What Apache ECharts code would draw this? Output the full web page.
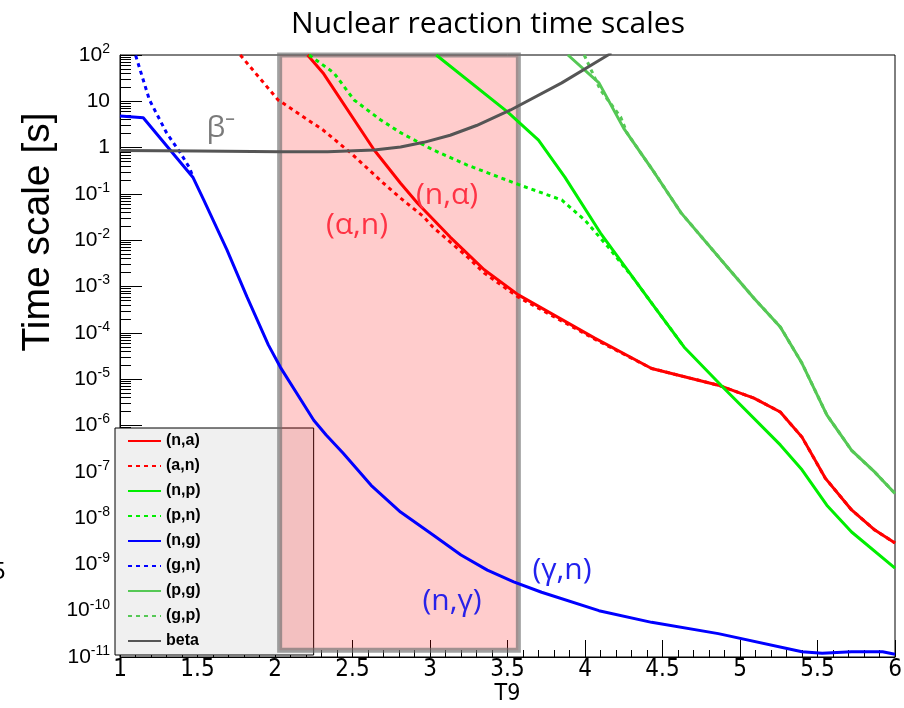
<!DOCTYPE html>
<html><head><meta charset="utf-8">
<script src="https://cdn.jsdelivr.net/npm/echarts@6/dist/echarts.min.js"></script>
<style>html,body{margin:0;padding:0;background:#fff}#c{width:904px;height:708px}</style>
</head><body><div id="c"></div>
<script>
// ---- data (T9, time scale in s) ----
const T_na = [2.21, 2.31, 2.64, 2.81, 2.92, 3.13, 3.35, 3.57, 4.06, 4.43, 4.86, 5.09, 5.26, 5.40, 5.55, 5.72, 5.87, 6.0];
const V_na = [100, 41, 0.89, 0.17, 0.063, 0.0117, 2.3e-3, 6.6e-4, 7.8e-5, 1.7e-5, 7.4e-6, 3.9e-6, 1.95e-6, 5.6e-7, 7.3e-8, 1.5e-8, 5.5e-9, 2.9e-9];

const T_an = [1.776, 2.02, 2.31, 2.49, 2.70, 2.81, 2.96, 3.02, 3.24, 3.35, 3.57, 4.06, 4.43, 4.86, 5.09, 5.26, 5.40, 5.55, 5.72, 5.87, 6.0];
const V_an = [100, 10.7, 2.4, 0.76, 0.17, 0.081, 0.032, 0.019, 4.4e-3, 1.95e-3, 5.9e-4, 7.4e-5, 1.7e-5, 7.4e-6, 3.9e-6, 1.95e-6, 5.6e-7, 7.3e-8, 1.5e-8, 5.5e-9, 2.9e-9];

const T_np = [3.04, 3.50, 3.70, 3.87, 4.10, 4.43, 4.64, 4.89, 5.26, 5.40, 5.56, 5.72, 6.0];
const V_np = [100, 5.9, 1.45, 0.23, 0.0143, 4.4e-4, 4.9e-5, 6.7e-6, 3.8e-7, 1.1e-7, 1.9e-8, 5e-9, 8.3e-10];

const T_pn = [2.22, 2.38, 2.51, 2.68, 2.81, 3.02, 3.24, 3.57, 3.85, 4.00, 4.15, 4.32, 4.43, 4.64];
const V_pn = [100, 41, 10.7, 4.0, 2.1, 0.89, 0.42, 0.16, 0.074, 0.027, 7.1e-3, 1.4e-3, 4.4e-4, 4.9e-5];

const T_ng = [1.0, 1.15, 1.47, 1.54, 1.69, 1.82, 1.957, 2.035, 2.25, 2.33, 2.44, 2.62, 2.81, 3.02, 3.20, 3.37, 3.54, 3.72, 4.09, 4.43, 4.86, 5.40, 5.53, 5.72, 5.92, 6.0];
const V_ng = [4.8, 4.4, 0.23, 0.074, 6.2e-3, 5.9e-4, 5.5e-5, 1.8e-5, 1.3e-6, 6.2e-7, 2.5e-7, 5.1e-8, 1.35e-8, 4.3e-9, 1.6e-9, 7.5e-10, 4.2e-10, 2.5e-10, 1.0e-10, 5.6e-11, 3.2e-11, 1.3e-11, 1.2e-11, 1.3e-11, 1.3e-11, 1.15e-11];

const T_gn = [1.05, 1.10, 1.19, 1.30, 1.39, 1.45, 1.47];
const V_gn = [300, 100, 10.7, 2.1, 0.76, 0.36, 0.23];

const T_pg = [3.89, 4.09, 4.25, 4.45, 4.62, 4.88, 5.09, 5.26, 5.40, 5.56, 5.72, 5.87, 6.0];
const V_pg = [100, 25, 2.6, 0.28, 0.039, 3.7e-3, 5.6e-4, 1.34e-4, 2.2e-5, 1.7e-6, 2.9e-7, 9.8e-8, 3.4e-8];

const T_gp = [3.995, 4.10, 4.23, 4.27, 4.45, 4.62, 4.88, 5.09, 5.26, 5.40, 5.56, 5.72, 5.87, 6.0];
const V_gp = [100, 17.5, 4.6, 2.1, 0.28, 0.039, 3.7e-3, 5.6e-4, 1.34e-4, 2.2e-5, 1.7e-6, 2.9e-7, 9.8e-8, 3.4e-8];

const T_beta = [1.0, 1.5, 2.03, 2.34, 2.64, 2.81, 2.96, 3.13, 3.30, 3.52, 3.85, 4.17];
const V_beta = [0.87, 0.84, 0.81, 0.81, 0.89, 1.03, 1.3, 1.85, 3.0, 6.5, 25, 110];

const legendNames = ['(n,a)', '(a,n)', '(n,p)', '(p,n)', '(n,g)', '(g,n)', '(p,g)', '(g,p)', 'beta'];
const yDecades = [1e-11, 1e-10, 1e-9, 1e-8, 1e-7, 1e-6, 1e-5, 1e-4, 1e-3, 1e-2, 1e-1, 1, 10, 100];
const xTicks = [1, 1.5, 2, 2.5, 3, 3.5, 4, 4.5, 5, 5.5, 6];
const windowT = [2.03, 3.57];
const windowV = [1.4e-11, 100];

// minor log ticks 2..9 within each decade
const yMinor = [];
yDecades.slice(0, -1).forEach(d => { for (let k = 2; k <= 9; k++) yMinor.push(+(k * d).toPrecision(3)); });

// ---- chart ----
const chart = echarts.init(document.getElementById('c'), null, {renderer: 'canvas'});
const pairs = (t, v) => t.map((x, i) => [x, v[i]]);
const DOT = [4, 4];
function line(name, t, v, color, dotted) {
  return {
    name, type: 'line', data: pairs(t, v), symbol: 'none', showSymbol: false, clip: true, z: 3,
    lineStyle: {color, width: 3, type: dotted ? DOT : 'solid'},
    itemStyle: {color}, emphasis: {disabled: true}
  };
}
const RED = '#ff0000', GREEN = '#00ee00', BLUE = '#0000ff', MGREEN = '#55c855', GRAY = '#555555';
const series = [
  line('(n,a)', T_na, V_na, RED, false),
  line('(a,n)', T_an, V_an, RED, true),
  line('(n,p)', T_np, V_np, GREEN, false),
  line('(p,n)', T_pn, V_pn, GREEN, true),
  line('(n,g)', T_ng, V_ng, BLUE, false),
  line('(g,n)', T_gn, V_gn, BLUE, true),
  line('(p,g)', T_pg, V_pg, MGREEN, false),
  line('(g,p)', T_gp, V_gp, MGREEN, true),
  line('beta', T_beta, V_beta, GRAY, false),
  {
    name: 'window', type: 'line', data: [], z: 10, silent: true,
    markArea: {
      silent: true,
      itemStyle: {color: 'rgba(255,0,0,0.2)', borderColor: 'rgba(110,110,110,0.65)', borderWidth: 5},
      data: [[{xAxis: windowT[0], yAxis: windowV[0]}, {xAxis: windowT[1], yAxis: windowV[1]}]]
    }
  }
];

const supFmt = v => {
  const e = Math.round(Math.log10(v));
  if (e === 0) return '1';
  if (e === 1) return '10';
  return '10{s|' + e + '}';
};

const labelFont = 'Open Sans';
const narrow = 'Liberation Sans Narrow, DejaVu Sans Condensed, Liberation Sans';
chart.setOption({
  animation: false,
  grid: {left: 120, right: 9, top: 55, bottom: 51, show: true, borderColor: '#000', borderWidth: 1,
    backgroundColor: 'transparent', containLabel: false, outerBoundsMode: 'none'},
  xAxis: {
    type: 'value', min: 1, max: 6, interval: 0.5,
    name: 'T9', nameLocation: 'middle', nameGap: 26, nameMoveOverlap: false,
    nameTextStyle: {fontFamily: narrow, fontSize: 23, color: '#000'},
    axisLine: {show: true, lineStyle: {color: '#000', width: 1}},
    axisTick: {show: true, inside: true, length: 17, lineStyle: {color: '#000'}},
    minorTick: {show: true, splitNumber: 5, length: 7, lineStyle: {color: '#000'}},
    splitLine: {show: false},
    axisLabel: {margin: 1, fontFamily: narrow, fontSize: 24, color: '#000',
      customValues: xTicks, formatter: v => String(v)}
  },
  yAxis: [{
    type: 'log', logBase: 10, min: 1e-11, max: 100,
    axisLine: {show: true, lineStyle: {color: '#000', width: 1}},
    axisTick: {show: true, inside: true, length: 22, lineStyle: {color: '#000'}, customValues: yDecades},
    minorTick: {show: false},
    splitLine: {show: false},
    axisLabel: {
      margin: 10, color: '#000', fontFamily: 'Liberation Sans', fontSize: 21, formatter: supFmt,
      customValues: yDecades, showMinLabel: true, showMaxLabel: true,
      rich: {s: {fontSize: 14, fontFamily: 'Liberation Sans', color: '#000', verticalAlign: 'top', lineHeight: 26}}
    }
  }, {
    type: 'log', logBase: 10, min: 1e-11, max: 100, position: 'left', offset: 0,
    axisLine: {show: false},
    axisTick: {show: true, inside: true, length: 11, lineStyle: {color: '#000'}, customValues: yMinor},
    axisLabel: {show: false},
    splitLine: {show: false}
  }],
  legend: {
    orient: 'vertical', left: 115, top: 428, z: 1,
    data: legendNames,
    backgroundColor: '#f0f0f0', borderColor: '#000', borderWidth: 1, borderRadius: 0,
    padding: [5, 113, 6, 12], itemWidth: 33, itemHeight: 14, itemGap: 9,
    itemStyle: {color: 'transparent', borderColor: 'transparent', borderWidth: 0, opacity: 0},
    textStyle: {fontFamily: 'Liberation Sans', fontWeight: 'bold', fontSize: 16, color: '#000'},
    selectedMode: false
  },
  graphic: [
    {type: 'text', x: 488, y: 24, z: 20, style: {text: 'Nuclear reaction time scales', font: '30px "Open Sans"', fill: '#000', textAlign: 'center', textVerticalAlign: 'middle', verticalAlign: 'middle'}},
    {type: 'text', x: 38, y: 232, rotation: Math.PI / 2, z: 20, style: {text: 'Time scale [s]', font: '39px "Liberation Sans"', fill: '#000', textAlign: 'center', textVerticalAlign: 'middle', verticalAlign: 'middle'}},
    {type: 'text', x: 221, y: 128, z: 20, style: {text: 'β⁻', font: '30px "' + labelFont + '"', fill: '#7a7a7a', textAlign: 'center', textVerticalAlign: 'middle', verticalAlign: 'middle'}},
    {type: 'text', x: 447, y: 195, z: 20, style: {text: '(n,α)', font: '30px "' + labelFont + '"', fill: '#ff3344', textAlign: 'center', textVerticalAlign: 'middle', verticalAlign: 'middle'}},
    {type: 'text', x: 357, y: 225, z: 20, style: {text: '(α,n)', font: '30px "' + labelFont + '"', fill: '#ff3344', textAlign: 'center', textVerticalAlign: 'middle', verticalAlign: 'middle'}},
    {type: 'text', x: 562, y: 570, z: 20, style: {text: '(γ,n)', font: '30px "' + labelFont + '"', fill: '#2222ee', textAlign: 'center', textVerticalAlign: 'middle', verticalAlign: 'middle'}},
    {type: 'text', x: 452, y: 601, z: 20, style: {text: '(n,γ)', font: '30px "' + labelFont + '"', fill: '#2a22e8', textAlign: 'center', textVerticalAlign: 'middle', verticalAlign: 'middle'}},
    {type: 'text', x: -8, y: 572, z: 20, style: {text: '5', font: '24px "Liberation Sans"', fill: '#000', textAlign: 'left', textVerticalAlign: 'middle', verticalAlign: 'middle'}}
  ],
  series
});
</script></body></html>
